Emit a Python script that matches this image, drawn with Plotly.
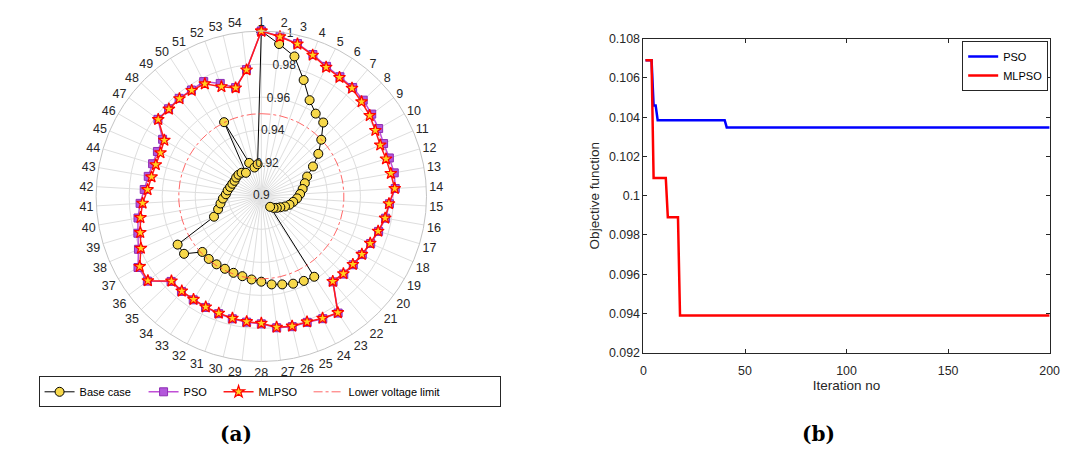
import plotly.graph_objects as go

# ---- (a) bus voltage profile of the 54-bus feeder ----
buses = [str(i) for i in range(1, 55)]

v_base = [1.0000, 0.9928, 0.9870, 0.9749, 0.9651, 0.9599, 0.9583, 0.9499, 0.9430, 0.9361,
          0.9302, 0.9275, 0.9254, 0.9235, 0.9217, 0.9196, 0.9178, 0.9156, 0.9133, 0.9117,
          0.9102, 0.9083, 0.9583, 0.9573, 0.9563, 0.9548, 0.9537, 0.9517, 0.9507, 0.9497,
          0.9493, 0.9491, 0.9493, 0.9495, 0.9491, 0.9583, 0.9585, 0.9312, 0.9273, 0.9251,
          0.9233, 0.9215, 0.9207, 0.9197, 0.9191, 0.9187, 0.9190, 0.9190, 0.9186, 0.9170,
          0.9502, 0.9215, 0.9179, 0.9195]

v_pso = [1.0000, 0.9975, 0.9950, 0.9913, 0.9880, 0.9866, 0.9860, 0.9848, 0.9833, 0.9820,
         0.9806, 0.9809, 0.9817, 0.9812, 0.9777, 0.9764, 0.9741, 0.9721, 0.9706, 0.9694,
         0.9686, 0.9676, 0.9846, 0.9829, 0.9812, 0.9811, 0.9801, 0.9772, 0.9767, 0.9762,
         0.9756, 0.9753, 0.9750, 0.9752, 0.9751, 0.9860, 0.9862, 0.9810, 0.9780, 0.9758,
         0.9735, 0.9710, 0.9695, 0.9687, 0.9685, 0.9690, 0.9780, 0.9772, 0.9774, 0.9770,
         0.9777, 0.9727, 0.9676, 0.9772]

v_mlpso = [1.0000, 0.9972, 0.9947, 0.9909, 0.9874, 0.9861, 0.9854, 0.9834, 0.9818, 0.9797,
           0.9784, 0.9788, 0.9796, 0.9809, 0.9774, 0.9761, 0.9738, 0.9718, 0.9703, 0.9691,
           0.9683, 0.9673, 0.9843, 0.9826, 0.9809, 0.9808, 0.9798, 0.9769, 0.9764, 0.9759,
           0.9753, 0.9750, 0.9747, 0.9749, 0.9748, 0.9856, 0.9850, 0.9794, 0.9765, 0.9743,
           0.9720, 0.9690, 0.9675, 0.9667, 0.9665, 0.9678, 0.9778, 0.9769, 0.9771, 0.9767,
           0.9762, 0.9706, 0.9674, 0.9770]

v_lower_limit = 0.95

r_ticks = [0.9, 0.92, 0.94, 0.96, 0.98, 1.0]
r_tick_text = ["0.9", "0.92", "0.94", "0.96", "0.98", "1"]

# ---- (b) convergence of the objective function ----
iter_pso = [1, 4, 5, 6, 7, 40, 41, 200]
obj_pso = [0.1069, 0.1069, 0.1046, 0.1046, 0.10385, 0.10385, 0.10348, 0.10348]
iter_mlpso = [1, 4, 5, 11, 12, 17, 18, 200]
obj_mlpso = [0.1069, 0.1069, 0.1009, 0.1009, 0.0989, 0.0989, 0.0939, 0.0939]

y_ticks = [0.092, 0.094, 0.096, 0.098, 0.100, 0.102, 0.104, 0.106, 0.108]
y_tick_text = ["0.092", "0.094", "0.096", "0.098", "0.1", "0.102", "0.104", "0.106", "0.108"]
x_ticks = [0, 50, 100, 150, 200]

FONT = "Liberation Sans, Arial, Helvetica, sans-serif"
TXT = "#262626"
GRID = "#DEDEDE"

# buses are spread evenly round the circle, bus 1 at the top, clockwise
bus_angle = [360.0 * k / len(buses) for k in range(len(buses))]
R_LABEL_ANGLE = 10  # where the radial tick labels sit


def closed(seq):
    """Repeat the first element so the profile closes on bus 1."""
    return list(seq) + [seq[0]]


fig = go.Figure()

fig.add_trace(go.Scatterpolar(
    r=closed(v_base), theta=closed(bus_angle), mode="lines+markers", name="Base case",
    line=dict(color="black", width=1),
    marker=dict(symbol="circle", size=9, color="#F7D84A", line=dict(color="black", width=1)),
    cliponaxis=False, legend="legend", legendwidth=59))

fig.add_trace(go.Scatterpolar(
    r=closed(v_pso), theta=closed(bus_angle), mode="lines+markers", name="PSO",
    line=dict(color="#C04FD6", width=1.5),
    marker=dict(symbol="square", size=8, color="#B357DB", line=dict(color="#8E2DB4", width=1)),
    cliponaxis=False, legend="legend", legendwidth=30))

fig.add_trace(go.Scatterpolar(
    r=closed(v_mlpso), theta=closed(bus_angle), mode="lines+markers", name="MLPSO",
    line=dict(color="#FF1A1A", width=1.5),
    marker=dict(symbol="star", size=9, color="#FFD21F", line=dict(color="#FF0000", width=1.2)),
    cliponaxis=False, legend="legend", legendwidth=45))

fig.add_trace(go.Scatterpolar(
    r=[v_lower_limit] * (len(buses) + 1), theta=closed(bus_angle), mode="lines",
    name="Lower voltage limit",
    line=dict(color="#FF4040", width=0.8, dash="dashdot"),
    legend="legend", legendwidth=146))

# radial tick labels, centred on the spoke at R_LABEL_ANGLE
fig.add_trace(go.Scatterpolar(
    r=r_ticks, theta=[R_LABEL_ANGLE] * len(r_ticks), mode="text", text=r_tick_text,
    textposition="middle center", textfont=dict(size=12, color=TXT, family=FONT),
    cliponaxis=False, showlegend=False, hoverinfo="skip"))

fig.add_trace(go.Scatter(
    x=iter_pso, y=obj_pso, mode="lines", name="PSO",
    line=dict(color="#0000FF", width=2.5), xaxis="x", yaxis="y", legend="legend2"))
fig.add_trace(go.Scatter(
    x=iter_mlpso, y=obj_mlpso, mode="lines", name="MLPSO",
    line=dict(color="#FF0000", width=2.5), xaxis="x", yaxis="y", legend="legend2"))

fig.update_layout(
    width=1073, height=456,
    margin=dict(l=0, r=0, t=0, b=0),
    paper_bgcolor="white", plot_bgcolor="white",
    font=dict(family=FONT, color=TXT, size=12),
    polar=dict(
        domain=dict(x=[0.0848, 0.4026], y=[0.1980, 0.9455]),
        bgcolor="white",
        angularaxis=dict(
            thetaunit="degrees", rotation=90, direction="clockwise",
            tickmode="array", tickvals=bus_angle, ticktext=buses,
            showgrid=True, gridcolor=GRID, gridwidth=1,
            showline=True, linecolor="#C4C4C4", linewidth=1,
            ticks="", tickfont=dict(size=12.5, color=TXT, family=FONT)),
        radialaxis=dict(
            range=[0.9, 1.0], angle=90 - R_LABEL_ANGLE,
            tickmode="array", tickvals=r_ticks, showticklabels=False,
            showgrid=True, gridcolor=GRID, gridwidth=1,
            showline=False, ticks=""),
    ),
    xaxis=dict(
        domain=[0.6042, 0.9874], anchor="y", range=[0, 200],
        tickmode="array", tickvals=x_ticks,
        showline=True, linecolor=TXT, linewidth=1, mirror="allticks",
        ticks="inside", ticklen=4, tickcolor=TXT, showgrid=False, zeroline=False,
        ticklabelstandoff=6,
        tickfont=dict(size=12.4, color=TXT, family=FONT),
        title=dict(text="Iteration no", font=dict(size=13.5, color=TXT, family=FONT), standoff=2)),
    yaxis=dict(
        domain=[0.2178, 0.9283], anchor="x", range=[0.092, 0.108],
        tickmode="array", tickvals=y_ticks, ticktext=y_tick_text,
        showline=True, linecolor=TXT, linewidth=1, mirror="allticks",
        ticks="inside", ticklen=4, tickcolor=TXT, showgrid=False, zeroline=False,
        tickfont=dict(size=12.4, color=TXT, family=FONT),
        title=dict(text="Objective function", font=dict(size=13.5, color=TXT, family=FONT), standoff=6)),
    legend=dict(
        orientation="h", x=36 / 1073, y=1 - 381 / 456, xanchor="left", yanchor="top",
        bordercolor=TXT, borderwidth=1, bgcolor="white",
        font=dict(size=11, color="black", family=FONT), itemwidth=30),
    legend2=dict(
        orientation="v", x=1058 / 1073, y=1 - 35 / 456, xanchor="right", yanchor="top",
        bordercolor=TXT, borderwidth=1, bgcolor="white",
        font=dict(size=11, color="black", family=FONT), tracegroupgap=0),
    showlegend=True,
)

for label, xc in (("(a)", 236 / 1073), ("(b)", 826 / 1073)):
    fig.add_annotation(
        text="<b>" + label + "</b>", x=xc, y=1 - 441 / 456, xref="paper", yref="paper",
        showarrow=False, xanchor="center", yanchor="middle",
        font=dict(size=20, color="black", family="DejaVu Serif, serif"))

fig.write_html("out.html")
